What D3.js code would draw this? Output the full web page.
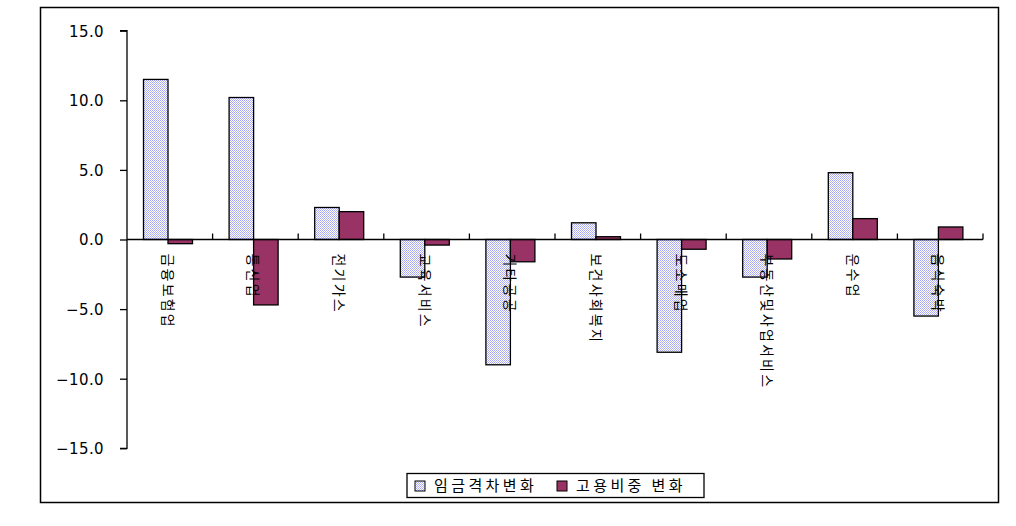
<!DOCTYPE html>
<html>
<head>
<meta charset="utf-8">
<script src="https://cdn.jsdelivr.net/npm/d3@7"></script>
<style>
  html, body { margin: 0; padding: 0; background: #fff; }
  svg { display: block; }
</style>
</head>
<body>
<svg id="chart" width="1016" height="526"></svg>
<script>
const categories = ["금융보험업", "통신업", "전기가스", "교육서비스", "기타공공", "보건사회복지", "도소매업", "부동산및사업서비스", "운수업", "음식숙박"];
const wageGapChange = [11.5, 10.2, 2.3, -2.7, -9.0, 1.2, -8.1, -2.7, 4.8, -5.5];
const employmentShareChange = [-0.3, -4.7, 2.0, -0.4, -1.6, 0.2, -0.7, -1.4, 1.5, 0.9];
const seriesNames = ["임금격차변화", "고용비중 변화"];
const yTicks = [15, 10, 5, 0, -5, -10, -15];

(function () {
const svg = d3.select("#chart");
const defs = svg.append("defs");
const pat = defs.append("pattern").attr("id", "dots")
  .attr("width", 2).attr("height", 2).attr("patternUnits", "userSpaceOnUse");
pat.append("rect").attr("width", 2).attr("height", 2).attr("fill", "#ffffff");
pat.append("rect").attr("x", 0).attr("y", 0).attr("width", 1).attr("height", 1).attr("fill", "#a4a4f0");
pat.append("rect").attr("x", 1).attr("y", 1).attr("width", 1).attr("height", 1).attr("fill", "#b8b8f4");

const fills = ["url(#dots)", "#993366"];

// outer border
svg.append("rect").attr("x", 40.5).attr("y", 7.5).attr("width", 958).attr("height", 495)
  .attr("fill", "none").attr("stroke", "#000").attr("stroke-width", 1.5);

const plotLeft = 127, plotRight = 983, plotTop = 30.7, plotBottom = 448.3;
const y = d3.scaleLinear().domain([-15, 15]).range([plotBottom, plotTop]);
const x0 = d3.scaleBand().domain(categories).range([plotLeft, plotRight]).paddingInner(0).paddingOuter(0);
const x1 = d3.scaleBand().domain([0, 1]).range([16.5, 65.5]).padding(0);

// y axis
const yAxis = d3.axisLeft(y).tickValues(yTicks).tickSize(7).tickPadding(0)
  .tickFormat(d => d3.format(".1f")(d).replace("-", "−"));
const gy = svg.append("g").attr("transform", `translate(${plotLeft},0)`).call(yAxis);
gy.select(".domain").attr("d", `M-7,${y(15)}H0V${y(-15)}H-7`).attr("stroke", "#000").attr("stroke-width", 1.3);
gy.selectAll(".tick line").attr("stroke", "#000").attr("stroke-width", 1.3);
gy.selectAll(".tick text").attr("x", -23).attr("dy", "0.36em")
  .attr("font-family", "DejaVu Sans, sans-serif").attr("font-size", 15).attr("fill", "#000")
  .attr("letter-spacing", 0.4);

// bars (drawn in root coordinates so the dot pattern stays pixel aligned)
const barData = [];
categories.forEach((c, i) => {
  [wageGapChange[i], employmentShareChange[i]].forEach((v, s) => barData.push({ c, v, s }));
});
svg.append("g").selectAll("rect").data(barData).join("rect")
  .attr("x", d => x0(d.c) + x1(d.s))
  .attr("width", x1.bandwidth())
  .attr("y", d => y(Math.max(0, d.v)))
  .attr("height", d => Math.abs(y(d.v) - y(0)))
  .attr("fill", d => fills[d.s])
  .attr("stroke", "#000").attr("stroke-width", 1.3);

// x axis (at zero) with upward ticks at category boundaries
const xAxisG = svg.append("g");
xAxisG.append("line").attr("x1", plotLeft).attr("x2", plotRight).attr("y1", y(0)).attr("y2", y(0))
  .attr("stroke", "#000").attr("stroke-width", 1.3);
const boundaries = categories.map(c => x0(c) + x0.bandwidth());
xAxisG.selectAll("line.tk").data(boundaries).join("line").attr("class", "tk")
  .attr("x1", d => d).attr("x2", d => d).attr("y1", y(0)).attr("y2", y(0) - 6)
  .attr("stroke", "#000").attr("stroke-width", 1.3);

// category labels, rotated
svg.append("g").selectAll("text").data(categories).join("text")
  .attr("transform", d => `translate(${x0(d) + x0.bandwidth() / 2 - 1},${y(0) + 14}) rotate(90)`)
  .attr("text-anchor", "start").attr("dominant-baseline", "central")
  .attr("font-family", "Noto Sans CJK KR, sans-serif").attr("font-size", 14)
  .attr("letter-spacing", 2.2).attr("fill", "#000")
  .text(d => d);

// legend
const lg = svg.append("g");
lg.append("rect").attr("x", 407).attr("y", 473.5).attr("width", 297).attr("height", 24)
  .attr("fill", "#fff").attr("stroke", "#000").attr("stroke-width", 1.3);
const legendX = [415, 557];
seriesNames.forEach((name, i) => {
  lg.append("rect").attr("x", legendX[i]).attr("y", 481).attr("width", 10).attr("height", 10)
    .attr("fill", fills[i]).attr("stroke", "#000").attr("stroke-width", 1);
  lg.append("text").attr("x", legendX[i] + 19).attr("y", 491)
    .attr("font-family", "Noto Sans CJK KR, sans-serif").attr("font-size", 15)
    .attr("letter-spacing", 3.4).attr("fill", "#000").text(name);
});
})();
</script>
</body>
</html>
